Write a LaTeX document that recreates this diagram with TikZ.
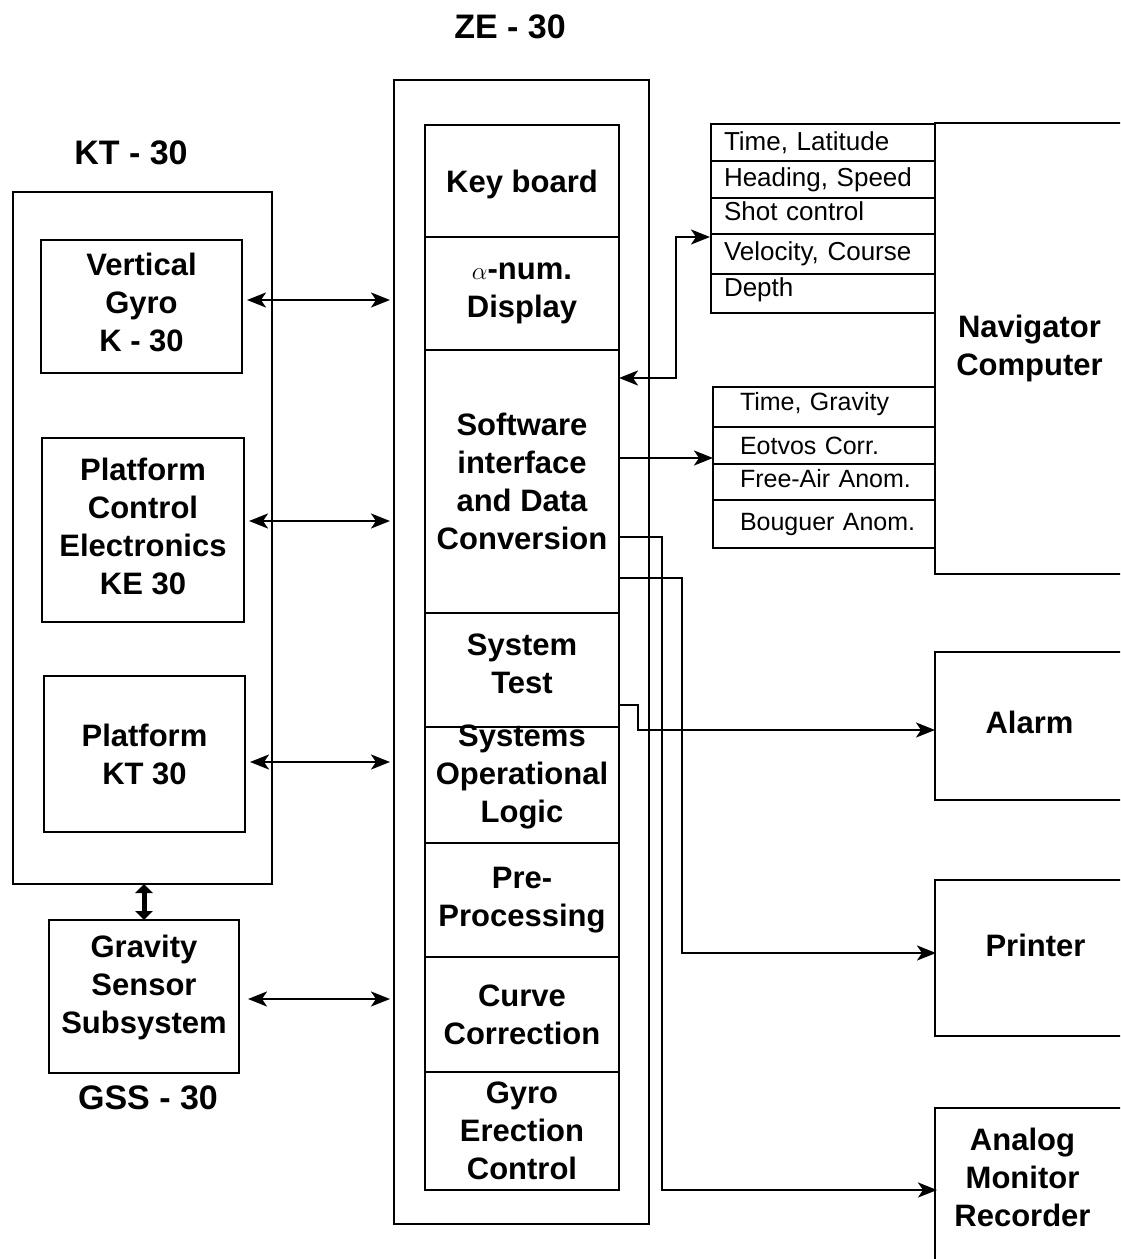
\documentclass[tikz,border=0pt]{standalone}
\usepackage{fontspec}
\setmainfont{Liberation Sans}
\usetikzlibrary{arrows.meta}
\frenchspacing

\begin{document}
\begin{tikzpicture}[x=1pt,y=-1pt,line width=2.4pt,>={Stealth[length=19pt,width=15pt,inset=5pt]},
    every node/.style={inner sep=0pt,outer sep=0pt},
    blk/.style={draw,align=center,font=\bfseries\fontsize{31}{38}\selectfont},
    frame/.style={draw},
    ttl/.style={font=\bfseries\fontsize{34}{40}\selectfont},
    cell/.style={draw,minimum width=224pt,text width=198pt,inner xsep=13pt,align=left,font=\fontsize{26}{30}\selectfont},
    cellb/.style={draw,minimum width=222pt,text width=214pt,inner xsep=4pt,align=left,font=\fontsize{25}{30}\selectfont,execute at begin node={\hspace*{23pt}}},
    fat/.style={line width=5pt,arrows={Triangle[length=9pt,width=17pt]-Triangle[length=9pt,width=17pt]}}]
            \useasboundingbox (0,0) rectangle (1120,1259);
            \clip (0,0) rectangle (1120,1259);
            \node[ttl] (zet) at (510,27) {ZE - 30};
            \node[ttl] (ktt) at (131,153) {KT - 30};
            \node[ttl] (gsst) at (148,1098) {GSS - 30};
            \node[frame,minimum width=259pt,minimum height=692pt] (kt) at (142.5,538) {};
            \node[blk,minimum width=201pt,minimum height=133pt,text depth=8pt] (vg) at (141.5,306.5) {Vertical\\Gyro\\K - 30};
            \node[blk,minimum width=202pt,minimum height=184pt,text depth=8pt] (pce) at (143,530) {Platform\\Control\\Electronics\\KE 30};
            \node[blk,minimum width=201pt,minimum height=156pt] (pkt) at (144.5,754) {Platform\\KT 30};
            \node[blk,minimum width=190pt,minimum height=153pt,text depth=24pt] (gss) at (144,996.5) {Gravity\\Sensor\\Subsystem};
            \node[frame,minimum width=255pt,minimum height=1144pt] (ze) at (521.5,652) {};
            \node[blk,minimum width=194pt,minimum height=112pt,text height=30pt] (kb) at (522,181) {Key board};
            \node[blk,minimum width=194pt,minimum height=113pt] (disp) at (522,293.5) {$\alpha$-num.\\Display};
            \node[blk,minimum width=194pt,minimum height=263pt] (sw) at (522,481.5) {Software\\interface\\and Data\\Conversion};
            \node[blk,minimum width=194pt,minimum height=114pt,text depth=13pt] (st) at (522,670) {System\\Test};
            \node[blk,minimum width=194pt,minimum height=116pt,text height=82pt] (sol) at (522,785) {Systems\\Operational\\Logic};
            \node[blk,minimum width=194pt,minimum height=114pt] (pp) at (522,900) {Pre-\\Processing};
            \node[blk,minimum width=194pt,minimum height=115pt] (cc) at (522,1014.5) {Curve\\Correction};
            \node[blk,minimum width=194pt,minimum height=118pt] (gec) at (522,1131) {Gyro\\Erection\\Control};
            \node[cell,minimum height=37pt] (r1) at (823,142.5) {Time, Latitude};
            \node[cell,minimum height=37pt] (r2) at (823,179.5) {Heading, Speed};
            \node[cell,minimum height=36pt,text depth=9pt] (r3) at (823,216) {Shot control};
            \node[cell,minimum height=40pt] (r4) at (823,254) {Velocity, Course};
            \node[cell,minimum height=39pt,text depth=12pt] (r5) at (823,293.5) {Depth};
            \node[cellb,minimum height=40pt,text depth=12pt] (g1) at (824,407) {Time, Gravity};
            \node[cellb,minimum height=37pt] (g2) at (824,445.5) {Eotvos Corr.};
            \node[cellb,minimum height=36pt,text depth=8pt] (g3) at (824,482) {Free-Air Anom.};
            \node[cellb,minimum height=48pt] (g4) at (824,524) {Bouguer Anom.};
            \node[blk,minimum width=189pt,minimum height=451pt] (nav) at (1029.5,348.5) {Navigator\\Computer};
            \node[blk,minimum width=189pt,minimum height=148pt,text depth=8pt] (alarm) at (1029.5,726) {Alarm};
            \node[blk,minimum width=189pt,minimum height=156pt,text depth=26pt] (prn) at (1029.5,958) {\hspace*{12pt}Printer};
            \node[blk,minimum width=189pt,minimum height=154pt,text depth=16pt] (amr) at (1029.5,1185) {Analog\rule{14pt}{0pt}\\Monitor\rule{14pt}{0pt}\\Recorder\rule{14pt}{0pt}};
            \coordinate (z1) at (394,300);
            \coordinate (z2) at (394,521);
            \coordinate (z3) at (394,762);
            \coordinate (z4) at (394,999);
            \draw[<->,shorten <=5pt,shorten >=4pt] (vg.east |- z1) -- (z1);
            \draw[<->,shorten <=5pt,shorten >=4pt] (pce.east |- z2) -- (z2);
            \draw[<->,shorten <=5pt,shorten >=4pt] (pkt.east |- z3) -- (z3);
            \draw[<->,shorten <=9pt,shorten >=4pt] (gss.east |- z4) -- (z4);
            \draw[fat] (gss.north |- kt.south) -- (gss.north);
            \coordinate (b1) at (676,378);
            \coordinate (t1) at (710,237);
            \draw[<->] (sw.east |- b1) -- (b1) |- (t1);
            \coordinate (t2) at (713,458);
            \draw[->] (sw.east |- t2) -- (t2);
            \coordinate (b2) at (662,537);
            \coordinate (a1) at (937,1190);
            \draw[->] (sw.east |- b2) -- (b2) |- (a1);
            \coordinate (b3) at (682,578);
            \coordinate (p1) at (936,953);
            \draw[->] (sw.east |- b3) -- (b3) |- (p1);
            \coordinate (b4) at (638,705);
            \coordinate (l1) at (935,730);
            \draw[->] (st.east |- b4) -- (b4) |- (l1);
        \end{tikzpicture}
\end{document}
